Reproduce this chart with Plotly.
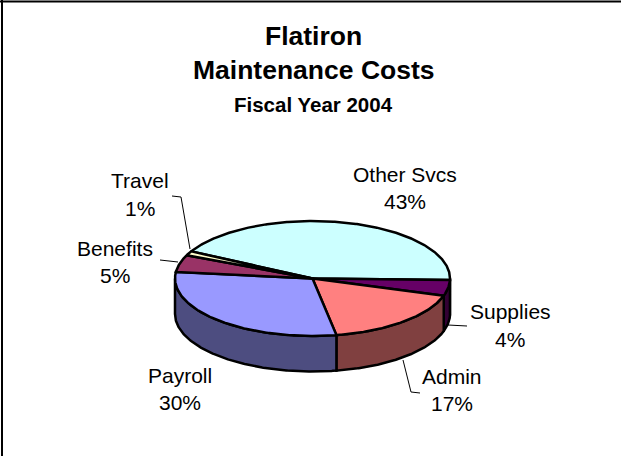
import numpy as np
import plotly.graph_objects as go

categories = ["Other Svcs", "Supplies", "Admin", "Payroll", "Benefits", "Travel"]
values = [42.6, 4.4, 17.4, 29.6, 4.8, 1.2]
top_colors = ["#CCFFFF", "#660066", "#FF8080", "#9999FF", "#993366", "#FFFFCC"]
side_colors = ["#668080", "#330033", "#804040", "#4D4D80", "#4D1A33", "#808066"]

# Tilted-pie projection (page pixels)
CX, CY, RX, RY, DEPTH = 312.5, 278.5, 137.5, 57.5, 35.5
FIRST_SLICE_END = 91.5  # clockwise from 12 o'clock

label_pos = {
    "Other Svcs": (405, 174, 201),
    "Supplies": (510, 311, 339),
    "Admin": (452, 376, 403),
    "Payroll": (180, 375, 402),
    "Benefits": (115, 248, 275),
    "Travel": (140, 180, 208),
}
leaders = [
    [(172, 196), (181, 197), (190, 249)],
    [(160, 260), (178, 262)],
    [(448, 325), (467, 326)],
    [(403, 360), (411, 392), (420, 393)],
]
titles = [("Flatiron", 35.5, 26.5), ("Maintenance Costs", 69.5, 26.5), ("Fiscal Year 2004", 104.5, 20.5)]
FONT = "Liberation Sans, Arial, sans-serif"


def arc(a0, a1, dy=0.0):
    t = np.radians(np.linspace(a0, a1, max(int(abs(a1 - a0)) * 2, 2) + 1))
    return CX + RX * np.sin(t), CY - RY * np.cos(t) + dy


total = sum(values)
spans = [v / total * 360 for v in values]
start = FIRST_SLICE_END - spans[0]
angles = []
for s in spans:
    angles.append((start, start + s))
    start += s

fig = go.Figure()
line = dict(color="black", width=2.5)

# Side walls: only the front half of the rim (90..270 degrees) is visible
for (a0, a1), col in zip(angles, side_colors):
    lo, hi = max(a0, 90), min(a1, 270)
    if lo >= hi:
        continue
    tx, ty = arc(lo, hi)
    bx, by = arc(hi, lo, DEPTH)
    fig.add_trace(go.Scatter(
        x=np.r_[tx, bx, tx[0]], y=np.r_[ty, by, ty[0]], mode="lines",
        fill="toself", fillcolor=col, line=line, hoverinfo="skip"))

# Top faces
for (a0, a1), col in zip(angles, top_colors):
    tx, ty = arc(a0, a1)
    fig.add_trace(go.Scatter(
        x=np.r_[CX, tx, CX], y=np.r_[CY, ty, CY], mode="lines",
        fill="toself", fillcolor=col, line=line, hoverinfo="skip"))

shapes = [
    dict(type="line", x0=2, x1=2, y0=0, y1=456, line=dict(color="black", width=2)),
    dict(type="line", x0=0, x1=621, y0=1.5, y1=1.5, line=dict(color="black", width=2)),
]
for pts in leaders:
    for p, q in zip(pts[:-1], pts[1:]):
        shapes.append(dict(type="line", x0=p[0], y0=p[1], x1=q[0], y1=q[1],
                           line=dict(color="black", width=1)))

annotations = []
for text, y, size in titles:
    annotations.append(dict(x=313.5, y=y, text=f"<b>{text}</b>", showarrow=False,
                            font=dict(family=FONT, size=size, color="black")))
for cat, val in zip(categories, values):
    x, y1, y2 = label_pos[cat]
    annotations.append(dict(x=x, y=y1, text=cat, showarrow=False,
                            font=dict(family=FONT, size=21, color="black")))
    annotations.append(dict(x=x, y=y2, text=f"{round(val)}%", showarrow=False,
                            font=dict(family=FONT, size=21, color="black")))

fig.update_layout(
    width=621, height=456, margin=dict(l=0, r=0, t=0, b=0),
    paper_bgcolor="white", plot_bgcolor="white", showlegend=False,
    xaxis=dict(range=[0, 621], visible=False, fixedrange=True),
    yaxis=dict(range=[456, 0], visible=False, fixedrange=True),
    shapes=shapes, annotations=annotations,
)
fig.write_html("out.html", config=dict(displayModeBar=False),
               post_script="document.body.style.margin='0';document.body.style.overflow='hidden';")
